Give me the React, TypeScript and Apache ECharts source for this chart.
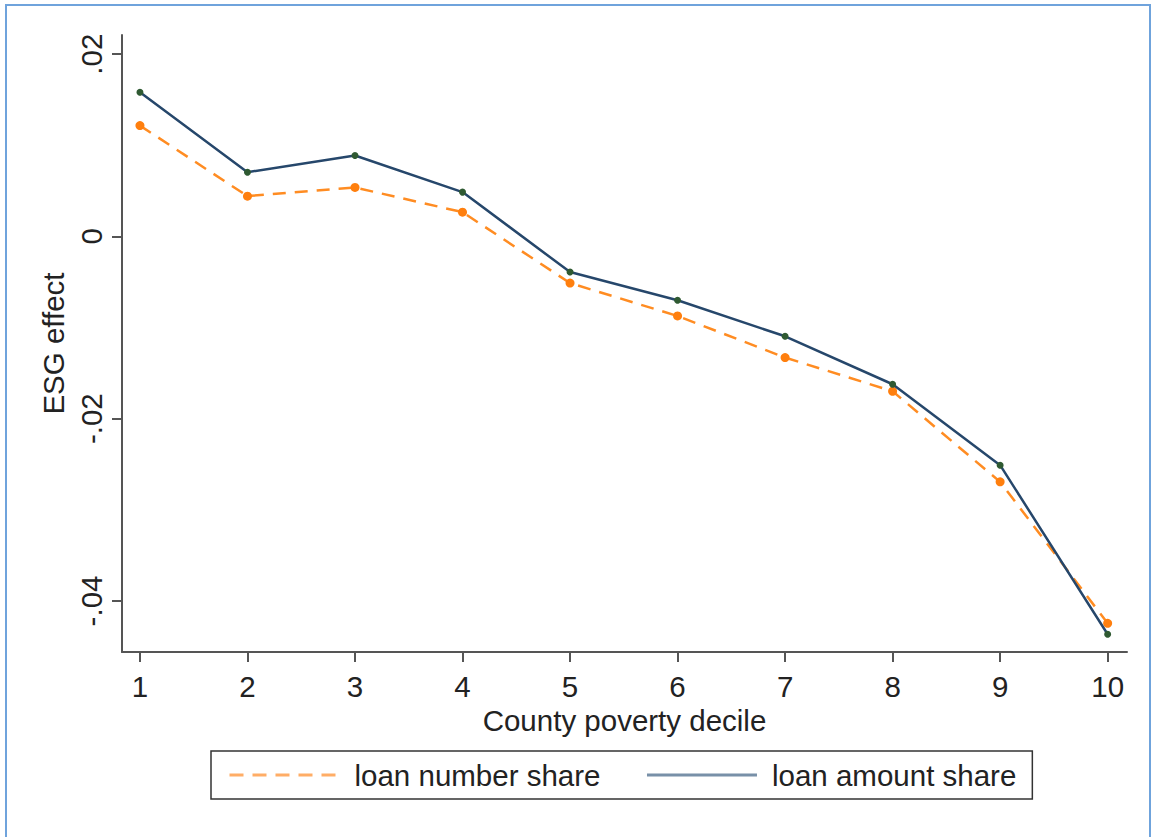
import React, { useEffect, useRef } from "react";
import * as echarts from "echarts";

const deciles = [1, 2, 3, 4, 5, 6, 7, 8, 9, 10];
const loanNumberShare = [0.01216, 0.00442, 0.00537, 0.00266, -0.00512, -0.00873, -0.01329, -0.01699, -0.02693, -0.04245];
const loanAmountShare = [0.01581, 0.00705, 0.00888, 0.00486, -0.00391, -0.00701, -0.01096, -0.01622, -0.0251, -0.04365];
const yTicks = [-0.04, -0.02, 0, 0.02];
const yTickLabels = ["-.04", "-.02", "0", ".02"];

const FONT = "'Liberation Sans', Arial, sans-serif";
const FS = 29.5;

export default function App() {
  const ref = useRef<HTMLDivElement>(null);
  useEffect(() => {
    document.body.style.margin = "0";
    const chart = echarts.init(ref.current!, null, { renderer: "svg" });
    const numberPts = deciles.map((d, i) => [d, loanNumberShare[i]]);
    const amountPts = deciles.map((d, i) => [d, loanAmountShare[i]]);
    chart.setOption({
      animation: false,
      backgroundColor: "#ffffff",
      textStyle: { fontFamily: FONT },
      grid: { left: 122, right: 26, top: 35, bottom: 185, containLabel: false },
      graphic: [
        {
          type: "rect",
          shape: { x: 6, y: 5, width: 1144, height: 850 },
          style: { fill: "none", stroke: "#6fa3dc", lineWidth: 2 },
          silent: true,
        },
      ],
      xAxis: {
        type: "value",
        min: 0.833,
        max: 10.18,
        name: "County poverty decile",
        nameLocation: "middle",
        nameGap: 46,
        nameTextStyle: { fontSize: FS, color: "#222", fontFamily: FONT },
        splitLine: { show: false },
        axisLine: { show: true, onZero: false, lineStyle: { color: "#555", width: 2 } },
        axisTick: { show: true, length: 10, lineStyle: { color: "#555", width: 2 }, customValues: deciles },
        axisLabel: { fontSize: FS, color: "#222", margin: 19, customValues: deciles, formatter: (v: number) => String(v) },
      },
      yAxis: {
        type: "value",
        min: -0.0456,
        max: 0.0221,
        name: "ESG effect",
        nameLocation: "middle",
        nameGap: 54,
        nameRotate: 90,
        nameTextStyle: { fontSize: FS, color: "#222", fontFamily: FONT },
        splitLine: { show: false },
        axisLine: { show: true, onZero: false, lineStyle: { color: "#555", width: 2 } },
        axisTick: { show: true, length: 10, lineStyle: { color: "#555", width: 2 }, customValues: yTicks },
        axisLabel: {
          fontSize: FS,
          color: "#222",
          rotate: 90,
          margin: 16,
          customValues: yTicks,
          formatter: (v: number) => {
            const idx = yTicks.findIndex((t) => Math.abs(t - v) < 1e-9);
            return idx >= 0 ? yTickLabels[idx] : "";
          },
        },
      },
      legend: {
        left: 211,
        top: 751,
        orient: "horizontal",
        borderColor: "#333",
        borderWidth: 1.5,
        padding: [9, 16, 9, 17],
        itemGap: 45,
        itemWidth: 110,
        itemHeight: 14,
        textStyle: { fontSize: FS, color: "#222", fontFamily: FONT, padding: [0, 0, 0, 10] },
        data: [
          { name: "loan number share", itemStyle: { opacity: 0 }, lineStyle: { color: "#ffad66", width: 3, type: [14, 9] } },
          { name: "loan amount share", itemStyle: { opacity: 0 }, lineStyle: { color: "#7890a8", width: 3 } },
        ],
      },
      series: [
        {
          name: "loan number share",
          type: "line",
          data: numberPts,
          symbol: "circle",
          symbolSize: 9,
          itemStyle: { color: "#ff7f0e" },
          lineStyle: { color: "#ff8c22", width: 2.5, type: [13, 9] },
          z: 2,
        },
        {
          name: "loan amount share",
          type: "line",
          data: amountPts,
          symbol: "circle",
          symbolSize: 7,
          itemStyle: { color: "#2f5a32" },
          lineStyle: { color: "#26476b", width: 2.5 },
          z: 3,
        },
      ],
    });
    return () => chart.dispose();
  }, []);
  return <div ref={ref} style={{ width: 1153, height: 837 }} />;
}
